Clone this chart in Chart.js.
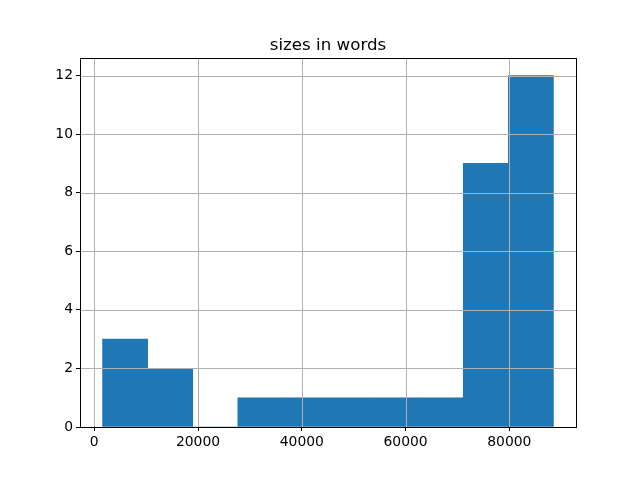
<!DOCTYPE html>
<html>
<head>
<meta charset="utf-8">
<script src="https://cdn.jsdelivr.net/npm/chart.js@4.4.1/dist/chart.umd.min.js"></script>
<style>
html,body{margin:0;padding:0;background:#fff;}
#wrap{width:640px;height:480px;}
</style>
</head>
<body>
<div id="wrap"><canvas id="c" width="640" height="480"></canvas></div>
<script>
const title = "sizes in words";
const binStart = 1600;
const binWidth = 8690;
const counts = [3, 2, 0, 1, 1, 1, 1, 1, 9, 12];
const xTicks = [0, 20000, 40000, 60000, 80000];
const yTicks = [0, 2, 4, 6, 8, 10, 12];

const points = counts.map((c, i) => ({x: binStart + binWidth * (i + 0.5), y: c}));

const frontPlugin = {
  id: 'front',
  afterDatasetsDraw(chart) {
    const ctx = chart.ctx;
    const a = chart.chartArea;
    ctx.save();
    ctx.beginPath();
    ctx.rect(a.left, a.top, a.right - a.left, a.bottom - a.top);
    ctx.clip();
    ctx.strokeStyle = '#b0b0b0';
    ctx.lineWidth = 1;
    chart.scales.x.ticks.forEach(t => {
      const px = Math.round(chart.scales.x.getPixelForValue(t.value)) + 0.5;
      ctx.beginPath(); ctx.moveTo(px, a.top); ctx.lineTo(px, a.bottom); ctx.stroke();
    });
    chart.scales.y.ticks.forEach(t => {
      const py = Math.round(chart.scales.y.getPixelForValue(t.value)) + 0.5;
      ctx.beginPath(); ctx.moveTo(a.left, py); ctx.lineTo(a.right, py); ctx.stroke();
    });
    ctx.restore();
    ctx.save();
    ctx.strokeStyle = '#000';
    ctx.lineWidth = 1;
    ctx.strokeRect(Math.round(a.left) + 0.5, Math.round(a.top) + 0.5, Math.round(a.right - a.left), Math.round(a.bottom - a.top));
    ctx.fillStyle = '#000';
    ctx.font = '16.67px "DejaVu Sans"';
    ctx.textAlign = 'center';
    ctx.textBaseline = 'alphabetic';
    ctx.fillText(title, (a.left + a.right) / 2, a.top - 8.3);
    ctx.restore();
  }
};

new Chart(document.getElementById('c'), {
  type: 'bar',
  data: {
    datasets: [{
      data: points,
      backgroundColor: '#1f77b4',
      borderWidth: 0,
      barPercentage: 1,
      categoryPercentage: 1,
      grouped: false
    }]
  },
  options: {
    responsive: false,
    animation: false,
    layout: {padding: {left: 0, right: 64, top: 58, bottom: 0}},
    plugins: {legend: {display: false}, tooltip: {enabled: false}, title: {display: false}},
    scales: {
      x: {
        type: 'linear',
        offset: false,
        min: -2750,
        max: 92850,
        afterFit(s) { s.height = 53; },
        afterBuildTicks(s) { s.ticks = xTicks.map(v => ({value: v})); },
        grid: {offset: false, color: 'rgba(0,0,0,0)', lineWidth: 1, tickColor: '#000', tickLength: 4, tickWidth: 1},
        border: {display: false},
        ticks: {color: '#000', font: {family: 'DejaVu Sans', size: 13.9}, padding: 3, maxRotation: 0, autoSkip: false,
          callback: v => String(v)}
      },
      y: {
        min: 0,
        max: 12.6,
        afterFit(s) { s.width = 80; },
        afterBuildTicks(s) { s.ticks = yTicks.map(v => ({value: v})); },
        grid: {offset: false, color: 'rgba(0,0,0,0)', lineWidth: 1, tickColor: '#000', tickLength: 4, tickWidth: 1},
        border: {display: false},
        ticks: {color: '#000', font: {family: 'DejaVu Sans', size: 13.9}, padding: 3, autoSkip: false,
          callback: v => String(v)}
      }
    }
  },
  plugins: [frontPlugin]
});
</script>
</body>
</html>
